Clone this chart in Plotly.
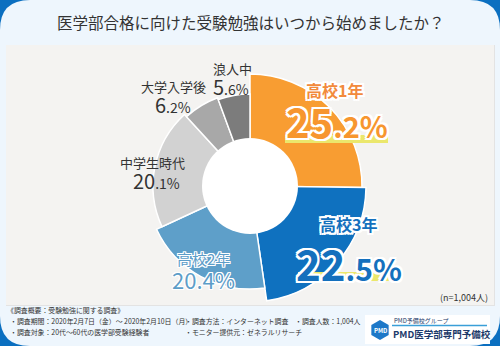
import numpy as np
import plotly.graph_objects as go

# ---------------- data ----------------
title_text = "医学部合格に向けた受験勉強はいつから始めましたか？"
categories = ["高校1年", "高校3年", "高校2年", "中学生時代", "大学入学後", "浪人中"]
percent_values = [25.2, 22.5, 20.4, 20.1, 6.2, 5.6]
sample_note = "(n=1,004人)"
footer_lines = [
    "《調査概要：受験勉強に関する調査》",
    "・調査期間：2020年2月7日（金）～ 2020年2月10日（月）",
    "・調査方法：インターネット調査",
    "・調査人数：1,004人",
    "・調査対象：20代～60代の医学部受験経験者",
    "・モニター提供元：ゼネラルリサーチ",
]
logo_small = "PMD予備校グループ"
logo_big = "PMD医学部専門予備校"

# ---------------- styles ----------------
W, H = 500, 346
FONT = "Noto Sans CJK JP"
colors = ["#f89d32", "#0f71bf", "#5e9fc9", "#d2d2d2", "#a8a8a8", "#7c7c7c"]
slice_radius = [112, 116, 103, 97, 94, 92]
hole_r = 48
cx, cy = 250, 186
R_MAX = 120


def px(x):
    return x / W


def py(y):
    return 1 - y / H


vals = np.array(percent_values)
starts = np.cumsum(vals) - vals
theta_c = (starts + vals / 2) * 3.6
widths = vals * 3.6

fig = go.Figure()
fig.add_trace(go.Barpolar(
    r=slice_radius,
    theta=theta_c,
    width=widths,
    base=0,
    marker=dict(color=colors, line=dict(color="white", width=1.5)),
    hoverinfo="skip",
    showlegend=False,
))

shapes = []
# rounded light panel
rr = 30
shapes.append(dict(
    type="path", xref="paper", yref="paper", layer="below",
    path=(f"M {px(rr)},{py(0)} L {px(W-rr)},{py(0)} Q {px(W)},{py(0)} {px(W)},{py(rr)} "
          f"L {px(W)},{py(H-rr)} Q {px(W)},{py(H)} {px(W-rr)},{py(H)} "
          f"L {px(rr)},{py(H)} Q {px(0)},{py(H)} {px(0)},{py(H-rr)} "
          f"L {px(0)},{py(rr)} Q {px(0)},{py(0)} {px(rr)},{py(0)} Z"),
    fillcolor="#eef6fd", line=dict(width=0),
))
# grey chart panel (with faint shadow)
shapes.append(dict(type="rect", xref="paper", yref="paper", layer="below",
                   x0=px(6), x1=px(495), y0=py(306), y1=py(45),
                   fillcolor="#e3e3e3", line=dict(width=0)))
shapes.append(dict(type="rect", xref="paper", yref="paper", layer="below",
                   x0=px(6), x1=px(494), y0=py(305), y1=py(45),
                   fillcolor="#f4f3f1", line=dict(width=0)))
# donut hole
shapes.append(dict(type="circle", xref="paper", yref="paper", layer="above",
                   x0=px(cx - hole_r), x1=px(cx + hole_r),
                   y0=py(cy + hole_r), y1=py(cy - hole_r),
                   fillcolor="white", line=dict(width=0)))
# yellow highlight bands
shapes.append(dict(type="rect", xref="paper", yref="paper", layer="above",
                   x0=px(285), x1=px(388), y0=py(143), y1=py(135),
                   fillcolor="#ebe76c", line=dict(width=0)))
shapes.append(dict(type="rect", xref="paper", yref="paper", layer="above",
                   x0=px(298), x1=px(399), y0=py(281), y1=py(272),
                   fillcolor="#ebe76c", line=dict(width=0)))
# logo box
shapes.append(dict(type="rect", xref="paper", yref="paper", layer="above",
                   x0=px(365), x1=px(490), y0=py(344), y1=py(315),
                   fillcolor="white", line=dict(width=0)))
shapes.append(dict(type="line", xref="paper", yref="paper", layer="above",
                   x0=px(392), x1=px(487), y0=py(325.5), y1=py(325.5),
                   line=dict(color="#3a9fd8", width=1.5)))
# cube icon
hx, hy, hs = 380, 330, 10
hexpath = "M " + " L ".join(
    f"{px(hx + hs*np.cos(np.radians(a)))},{py(hy + hs*np.sin(np.radians(a)))}"
    for a in [30, 90, 150, 210, 270, 330]) + " Z"
shapes.append(dict(type="path", xref="paper", yref="paper", layer="above",
                   path=hexpath, fillcolor="#1d78c8", line=dict(width=0)))


def outline(c, w=2):
    parts = []
    for dx, dy in [(w, 0), (-w, 0), (0, w), (0, -w), (w, w), (-w, -w), (w, -w), (-w, w)]:
        parts.append(f"{dx}px {dy}px 0 {c}")
    return ", ".join(parts)


def pct_html(v, big, small):
    s = f"{v:.1f}"
    ip, dp = s.split(".")
    return (f"<span style='font-size:{big}px'>{ip}</span>"
            f"<span style='font-size:{small}px'>.{dp}%</span>")


ann = []


def add(text, x, y, size, color, bold=False, shadow=None, xanchor="center"):
    ann.append(dict(text=text, x=px(x), y=py(y), xref="paper", yref="paper",
                    showarrow=False, xanchor=xanchor, yanchor="middle",
                    font=dict(family=FONT, size=size, color=color,
                              weight=700 if bold else 400,
                              shadow=shadow if shadow else "none")))


add(title_text, 251, 22, 15.5, "#333333", bold=False)

# 高校1年
add(categories[0], 334, 90, 16, "#f28a3c", bold=True, shadow=outline("white", 2))
add(pct_html(percent_values[0], 40, 29), 337, 121, 40, "#f7962f", bold=True,
    shadow=outline("white", 2))
# 高校3年
add(categories[1], 348, 224, 16, "#1470bd", bold=True, shadow=outline("white", 2))
add(pct_html(percent_values[1], 42, 30), 349, 262, 42, "#1470bd", bold=True,
    shadow=outline("white", 2))
# 高校2年
add(categories[2], 203, 258, 15, "#5d9dc8", shadow=outline("white", 1))
add(pct_html(percent_values[2], 22, 22), 203, 279, 22, "#5d9dc8", shadow=outline("white", 1))
# 中学生時代
add(categories[3], 152, 162, 13, "#333333")
add(pct_html(percent_values[3], 20, 14), 156, 180, 20, "#333333")
# 大学入学後
add(categories[4], 173, 87, 13, "#333333")
add(pct_html(percent_values[4], 20, 14), 173, 104, 20, "#333333")
# 浪人中
add(categories[5], 232, 68, 13, "#333333")
add(pct_html(percent_values[5], 20, 14), 231, 86, 20, "#333333")

add(sample_note, 490, 297, 9, "#333333", xanchor="right")

# footer
FS = 6.9
add(footer_lines[0], 5, 310, FS, "#333333", xanchor="left")
add(footer_lines[1], 8, 321, FS, "#333333", xanchor="left")
add(footer_lines[2], 183, 321, FS, "#333333", xanchor="left")
add(footer_lines[3], 293, 321, FS, "#333333", xanchor="left")
add(footer_lines[4], 8, 332, FS, "#333333", xanchor="left")
add(footer_lines[5], 183, 332, FS, "#333333", xanchor="left")

# logo texts
add(logo_small, 392, 320, 6, "#1d3a6a", xanchor="left")
add(logo_big, 391, 334, 9.5, "#1d3a6a", bold=True, xanchor="left")
add("PMD", 380, 330, 6, "white", bold=True)

fig.update_layout(
    width=W, height=H,
    margin=dict(l=0, r=0, t=0, b=0),
    paper_bgcolor="#0b6fc0",
    plot_bgcolor="rgba(0,0,0,0)",
    showlegend=False,
    shapes=shapes,
    annotations=ann,
    polar=dict(
        domain=dict(x=[px(cx - R_MAX), px(cx + R_MAX)],
                    y=[py(cy + R_MAX), py(cy - R_MAX)]),
        bgcolor="rgba(0,0,0,0)",
        hole=0,
        radialaxis=dict(range=[0, R_MAX], visible=False, showgrid=False),
        angularaxis=dict(visible=False, rotation=90, direction="clockwise",
                         showgrid=False),
        bargap=0,
    ),
)

fig.write_html("out.html")
